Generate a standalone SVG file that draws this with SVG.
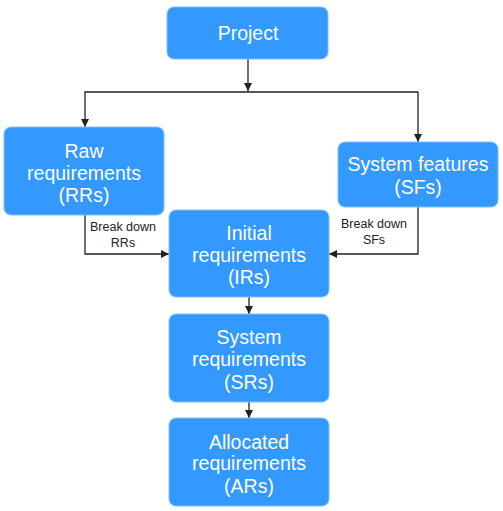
<svg xmlns="http://www.w3.org/2000/svg" width="503" height="511" viewBox="0 0 503 511">
<style>
.box{fill:#3399ff;stroke:#7fbfff;stroke-width:1}
.t{font-family:"Liberation Sans",Arial,sans-serif;font-size:19.5px;fill:#ffffff;text-anchor:middle}
.lbl{font-family:"Liberation Sans",Arial,sans-serif;font-size:12.5px;fill:#222;text-anchor:middle}
.c{fill:none;stroke:#222;stroke-width:1.3}
</style>
<defs>
<marker id="ah" viewBox="0 0 10 10" refX="10" refY="5" markerWidth="8" markerHeight="8" markerUnits="userSpaceOnUse" orient="auto">
<path d="M0,0 L10,5 L0,10 Z" fill="#222"/>
</marker>
</defs>
<rect width="503" height="511" fill="#ffffff"/>
<g id="connectors">
<path class="c" d="M248,59 V91" marker-end="url(#ah)"/>
<path class="c" d="M418,92 H85 V127" marker-end="url(#ah)"/>
<path class="c" d="M418,92 V142" marker-end="url(#ah)"/>
<path class="c" d="M85,215 V254 H169" marker-end="url(#ah)"/>
<path class="c" d="M418,207 V254 H329" marker-end="url(#ah)"/>
<path class="c" d="M249,297 V314" marker-end="url(#ah)"/>
<path class="c" d="M249,402 V418" marker-end="url(#ah)"/>
<text class="lbl" x="123" y="231">Break down</text>
<text class="lbl" x="123" y="247">RRs</text>
<text class="lbl" x="374" y="228">Break down</text>
<text class="lbl" x="374" y="244">SFs</text>
</g>
<g id="project">
<rect class="box" x="167" y="7" width="161" height="52" rx="7"/>
<text class="t" x="248" y="40">Project</text>
</g>
<g id="raw">
<rect class="box" x="4" y="127" width="160" height="88" rx="7"/>
<text class="t" x="84" y="158">Raw</text>
<text class="t" x="84" y="180">requirements</text>
<text class="t" x="84" y="202">(RRs)</text>
</g>
<g id="features">
<rect class="box" x="338" y="142" width="160" height="65" rx="7"/>
<text class="t" x="418" y="171">System features</text>
<text class="t" x="418" y="194">(SFs)</text>
</g>
<g id="initial">
<rect class="box" x="169" y="210" width="160" height="87" rx="7"/>
<text class="t" x="249" y="240">Initial</text>
<text class="t" x="249" y="262">requirements</text>
<text class="t" x="249" y="284">(IRs)</text>
</g>
<g id="system">
<rect class="box" x="169" y="314" width="160" height="88" rx="7"/>
<text class="t" x="249" y="344">System</text>
<text class="t" x="249" y="366">requirements</text>
<text class="t" x="249" y="389">(SRs)</text>
</g>
<g id="allocated">
<rect class="box" x="169" y="418" width="160" height="88" rx="7"/>
<text class="t" x="249" y="449">Allocated</text>
<text class="t" x="249" y="470">requirements</text>
<text class="t" x="249" y="493">(ARs)</text>
</g>
</svg>
